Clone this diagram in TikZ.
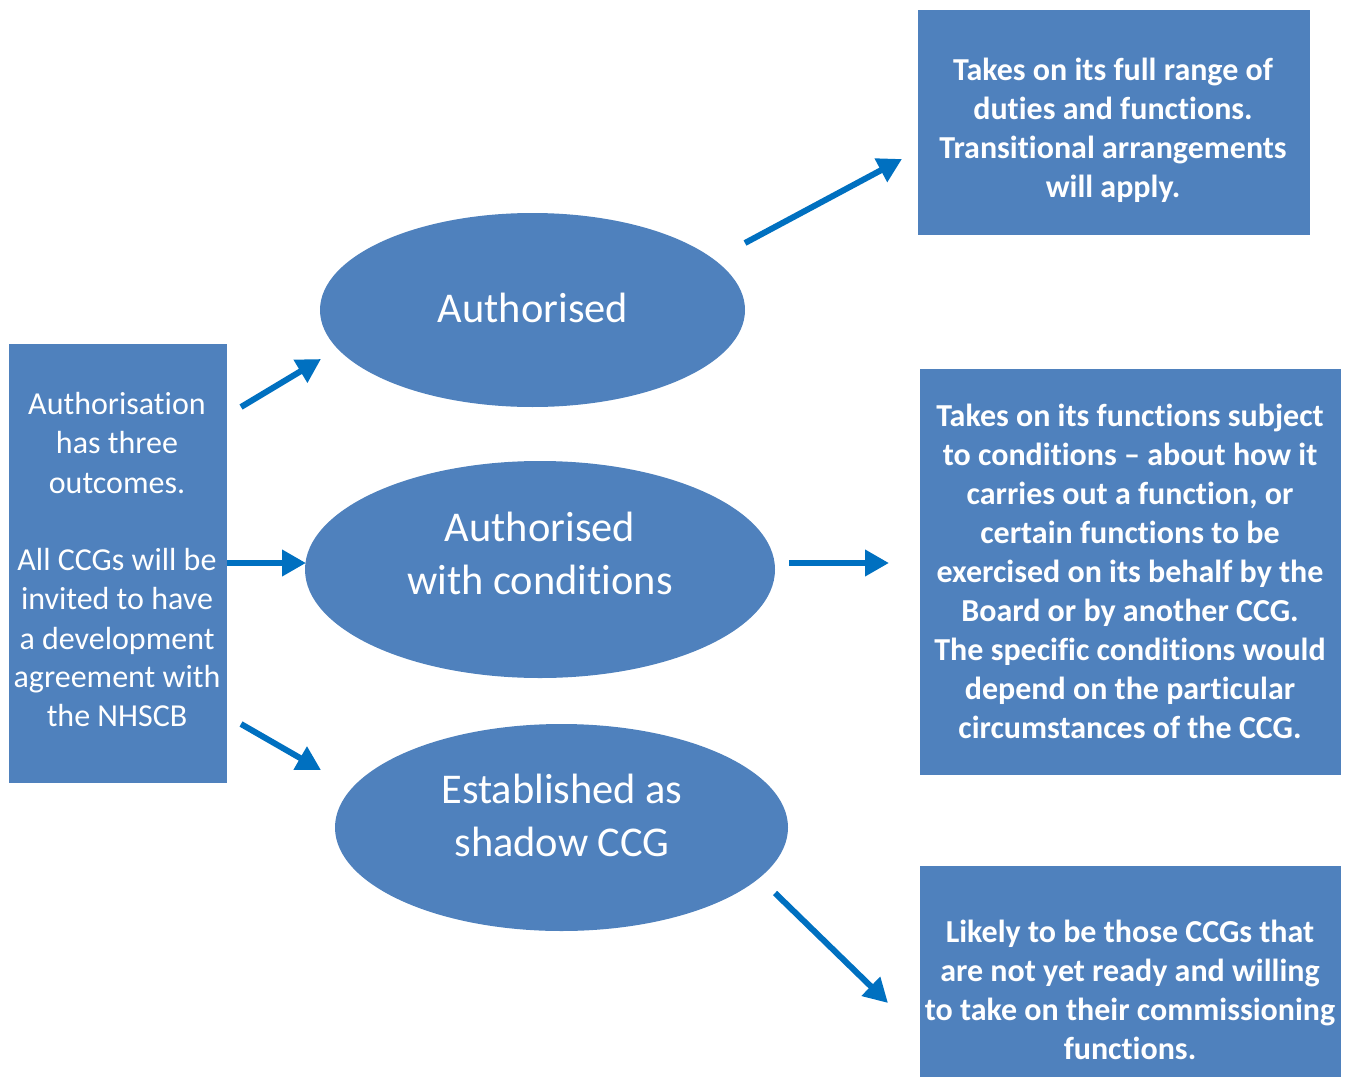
\documentclass[tikz,border=0pt]{standalone}
\usepackage{fontspec}
\setmainfont[Ligatures={NoCommon,TeX}]{Carlito}
\usetikzlibrary{shapes.geometric,arrows.meta}
\definecolor{boxblue}{HTML}{4F81BD}
\definecolor{arrowblue}{HTML}{0070C0}
\tikzset{
  sbox/.style={rectangle,fill=boxblue,inner sep=0pt,text=white},
  oval/.style={ellipse,fill=boxblue,inner sep=0pt,text=white},
  smalltxt/.style={text=white,align=center,font=\fontsize{24pt}{29.25pt}\selectfont,inner sep=0pt},
  boldtxt/.style={text=white,align=center,font=\fontsize{24pt}{29.25pt}\selectfont\bfseries,inner sep=0pt},
  bigtxt/.style={text=white,align=center,font=\fontsize{31.8pt}{39.75pt}\selectfont,inner sep=0pt},
  arr/.style={draw=arrowblue,line width=4.5pt,-{Triangle[length=18pt,width=19pt]}},
}
\begin{document}
\begin{tikzpicture}[x=0.75pt,y=-0.75pt]
\useasboundingbox (0,0) rectangle (1352,1077);
\clip (0,0) rectangle (1352,1077);
% left box
\node[sbox,minimum width=218*0.75pt,minimum height=439*0.75pt] (left) at (118,563.5) {};
\node[smalltxt] (leftt) at (117,560) {Authorisation\\has three\\outcomes.\\[29.25pt]All CCGs will be\\invited to have\\a development\\agreement with\\the NHSCB};
% ellipses
\node[oval,minimum width=425*0.75pt,minimum height=194*0.75pt] (e1) at (532.5,310) {};
\node[bigtxt] (e1t) at (533,308) {Authorised};
\node[oval,minimum width=470*0.75pt,minimum height=217*0.75pt] (e2) at (540,569.5) {};
\node[bigtxt] (e2t) at (540,553) {Authorised\\with conditions};
\node[oval,minimum width=453*0.75pt,minimum height=207*0.75pt] (e3) at (561.5,827.5) {};
\node[bigtxt] (e3t) at (562,815) {Established as\\shadow CCG};
% right boxes
\node[sbox,minimum width=392*0.75pt,minimum height=225*0.75pt] (tr) at (1114,122.5) {};
\node[boldtxt] (trt) at (1113,130) {Takes on its full range of\\duties and functions.\\Transitional arrangements\\will apply.};
\node[sbox,minimum width=421*0.75pt,minimum height=406*0.75pt] (mr) at (1130.5,572) {};
\node[boldtxt] (mrt) at (1130,571) {Takes on its functions subject\\to conditions -- about how it\\carries out a function, or\\certain functions to be\\exercised on its behalf by the\\Board or by another CCG.\\The specific conditions would\\depend on the particular\\circumstances of the CCG.};
\node[sbox,minimum width=421*0.75pt,minimum height=250*0.75pt] (br) at (1130.5,991) {};
\node[boldtxt] (brt) at (1130,990) {Likely to be those CCGs that\\are not yet ready and willing\\to take on their commissioning\\functions.};
% arrow end points
\coordinate (a1s) at (241,407); \coordinate (a1e) at (321,359);
\coordinate (a2s) at (227,563); \coordinate (a2e) at (306,563);
\coordinate (a3s) at (241,724); \coordinate (a3e) at (321,770);
\coordinate (a4s) at (745,243); \coordinate (a4e) at (902,159);
\coordinate (a5s) at (789,563); \coordinate (a5e) at (889,563);
\coordinate (a6s) at (775,893); \coordinate (a6e) at (888,1003);
\draw[arr] (a1s) -- (a1e);
\draw[arr] (a2s) -- (a2e);
\draw[arr] (a3s) -- (a3e);
\draw[arr] (a4s) -- (a4e);
\draw[arr] (a5s) -- (a5e);
\draw[arr] (a6s) -- (a6e);
\end{tikzpicture}
\end{document}
